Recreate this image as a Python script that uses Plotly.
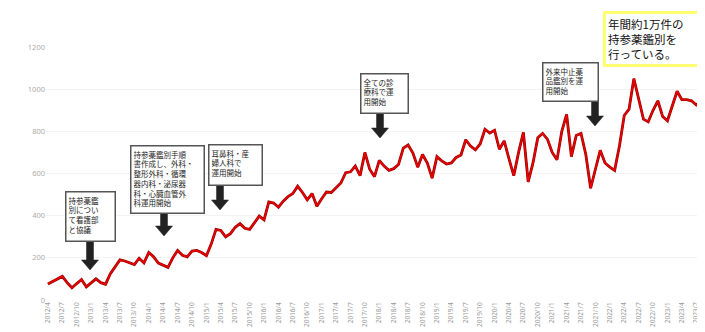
import plotly.graph_objects as go

# ---- data ----
start_year, start_month = 2012, 4
counts = [76, 88, 100, 112, 82, 58, 78, 97, 62, 80,
          100, 82, 75, 125, 155, 190, 185, 178, 168, 198,
          176, 225, 205, 175, 165, 155, 200, 235, 212, 205,
          232, 235, 225, 210, 265, 335, 330, 300, 315, 345,
          362, 340, 335, 365, 398, 380, 465, 460, 440, 469,
          490, 505, 540, 510, 475, 505, 445, 480, 512, 510,
          535, 555, 604, 608, 635, 590, 700, 620, 585, 662,
          635, 615, 623, 643, 720, 735, 697, 630, 690, 650,
          578, 680, 660, 645, 650, 676, 688, 760, 730, 712,
          740, 810, 792, 805, 715, 755, 670, 590, 700, 795,
          560, 650, 770, 790, 763, 700, 665, 800, 880, 680,
          780, 790, 690, 530, 620, 710, 650, 630, 615, 730,
          875, 905, 1050, 950, 858, 845, 900, 945, 870, 850,
          920, 990, 950, 950, 945, 925, 945]

months = []
y, m = start_year, start_month
for _ in counts:
    months.append(f"{y}/{m}")
    m += 1
    if m > 12:
        m = 1
        y += 1
tick_labels = months[::3]
y_ticks = [0, 200, 400, 600, 800, 1000, 1200]

notes = [
    "持参薬鑑<br>別につい<br>て看護部<br>と協議",
    "持参薬鑑別手順<br>書作成し、外科・<br>整形外科・循環<br>器内科・泌尿器<br>科・心臓血管外<br>科運用開始",
    "耳鼻科・産<br>婦人科で<br>運用開始",
    "全ての診<br>療科で運<br>用開始",
    "外来中止薬<br>品鑑別を運<br>用開始",
]
headline = "年間約1万件の<br>持参薬鑑別を<br>行っている。"

# ---- layout helpers (pixel -> paper) ----
W, H = 705, 332
L, R, T, B = 38, 695, 39, 292

def px(x):
    return (x - L) / (R - L)

def py(y):
    return (B - y) / (B - T)

fig = go.Figure()
fig.add_trace(go.Scatter(x=months, y=counts, mode="lines",
                         line=dict(color="#8a0000", width=2.8),
                         hoverinfo="skip", showlegend=False))
fig.add_trace(go.Scatter(x=months, y=counts, mode="lines",
                         line=dict(color="#ee0000", width=1.6),
                         showlegend=False))

# annotation boxes: (x0, y0, x1, y1) in pixels
boxes = [(57, 183, 107, 233), (122, 137, 196, 205), (200, 136, 254, 177),
         (352, 65, 400, 105), (534, 54, 590, 93)]
# arrows: (x, ytop, ytip)
arrows = [(82, 233, 262), (156, 205, 228), (212, 177, 202),
          (372, 105, 130), (587, 93, 118)]

annotations = []
for (x0, y0, x1, y1), txt in zip(boxes, notes):
    annotations.append(dict(
        x=px(x0), y=py(y0), xref="paper", yref="paper",
        xanchor="left", yanchor="top", showarrow=False,
        text=txt, align="left", valign="top",
        width=(x1 - x0) - 6, height=(y1 - y0) - 6,
        bgcolor="white", bordercolor="#555555", borderwidth=1.5, borderpad=2,
        font=dict(family="Noto Sans CJK JP", size=7.5, color="#222222")))

annotations.append(dict(
    x=px(595), y=py(3), xref="paper", yref="paper",
    xanchor="left", yanchor="top", showarrow=False,
    text=headline, align="left", valign="top",
    width=100,
    bgcolor="white", bordercolor="#ffff70", borderwidth=3, borderpad=2,
    font=dict(family="Noto Sans CJK JP", size=11.5, color="#111111")))

shapes = []
for (x, yt, yb) in arrows:
    sw, hw, hl = 7, 17, 10
    yh = yb - hl
    pts = [(x - sw / 2, yt), (x + sw / 2, yt), (x + sw / 2, yh), (x + hw / 2, yh),
           (x, yb), (x - hw / 2, yh), (x - sw / 2, yh)]
    path = "M " + " L ".join(f"{px(a):.5f},{py(b):.5f}" for a, b in pts) + " Z"
    shapes.append(dict(type="path", path=path, xref="paper", yref="paper",
                       fillcolor="#222222", line=dict(color="#222222", width=0.5)))

fig.update_layout(
    width=W, height=H,
    margin=dict(l=L, r=W - R, t=T, b=H - B),
    paper_bgcolor="white", plot_bgcolor="white",
    annotations=annotations, shapes=shapes,
    font=dict(family="Noto Sans, DejaVu Sans", color="#999999"),
    xaxis=dict(type="category", tickmode="array", tickvals=tick_labels,
               ticktext=tick_labels, tickangle=-90, showgrid=False,
               showline=False, zeroline=False,
               tickfont=dict(size=6.5, color="#999999"),
               range=[-0.4, len(counts) - 0.6]),
    yaxis=dict(range=[0, 1200], tickvals=y_ticks, showgrid=True,
               gridcolor="#f3f3f3", zeroline=False, showline=False,
               tickfont=dict(size=7.5, color="#aaaaaa")),
)

fig.write_html("out.html")
